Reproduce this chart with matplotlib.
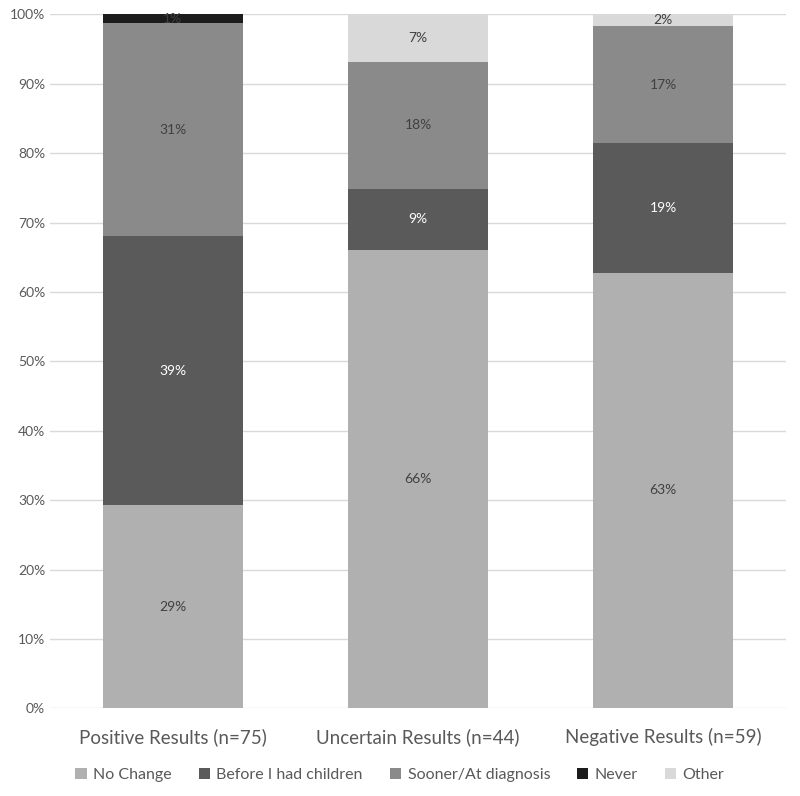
import numpy as np
import matplotlib
matplotlib.use("Agg")
import matplotlib.pyplot as plt

plt.rcParams['font.family'] = ['Lato', 'DejaVu Sans']

categories = ['Positive Results (n=75)', 'Uncertain Results (n=44)', 'Negative Results (n=59)']
series = ['No Change', 'Before I had children', 'Sooner/At diagnosis', 'Never', 'Other']
no_change = [29.3, 66.0, 62.8]
before_children = [38.7, 8.9, 18.6]
sooner = [30.7, 18.3, 16.9]
never = [1.3, 0.0, 0.0]
other = [0.0, 6.8, 1.7]
labels = [
    ['29%', '66%', '63%'],
    ['39%', '9%', '19%'],
    ['31%', '18%', '17%'],
    ['1%', '', ''],
    ['', '7%', '2%'],
]

colors = ['#b0b0b0', '#5a5a5a', '#8a8a8a', '#1c1c1c', '#d9d9d9']
text_colors = ['#404040', '#ffffff', '#404040', '#404040', '#404040']

fig = plt.figure(figsize=(8, 7.96), dpi=100)
ax = fig.add_axes([0.0625, 0.11, 0.92, 0.872])

x = np.arange(len(categories))
bottom = np.zeros(len(categories))
for i, vals in enumerate([no_change, before_children, sooner, never, other]):
    vals = np.array(vals)
    ax.bar(x, vals, 0.57, bottom=bottom, color=colors[i], label=series[i], zorder=2)
    for j in range(len(categories)):
        if labels[i][j]:
            ax.text(x[j], bottom[j] + vals[j] / 2, labels[i][j], ha='center', va='center',
                    fontsize=10, color=text_colors[i], zorder=3)
    bottom += vals

ax.set_xlim(-0.5, 2.5)
ax.set_ylim(0, 100)
ax.set_yticks(np.arange(0, 101, 10))
ax.set_yticklabels([f'{v}%' for v in range(0, 101, 10)], fontsize=10, color='#595959')
ax.set_xticks(x)
ax.set_xticklabels(categories, fontsize=13.5, color='#595959')
ax.tick_params(axis='both', length=0)
ax.tick_params(axis='x', pad=14)
ax.yaxis.grid(True, color='#d9d9d9', linewidth=1, zorder=0)
for s in ax.spines.values():
    s.set_visible(False)

ax.legend(loc='upper center', bbox_to_anchor=(0.4755, -0.065), ncol=5, frameon=False,
          fontsize=11.5, handlelength=0.7, handleheight=0.7, handletextpad=0.4,
          columnspacing=1.7, labelcolor='#595959')

fig.savefig('out.png', dpi=100)
